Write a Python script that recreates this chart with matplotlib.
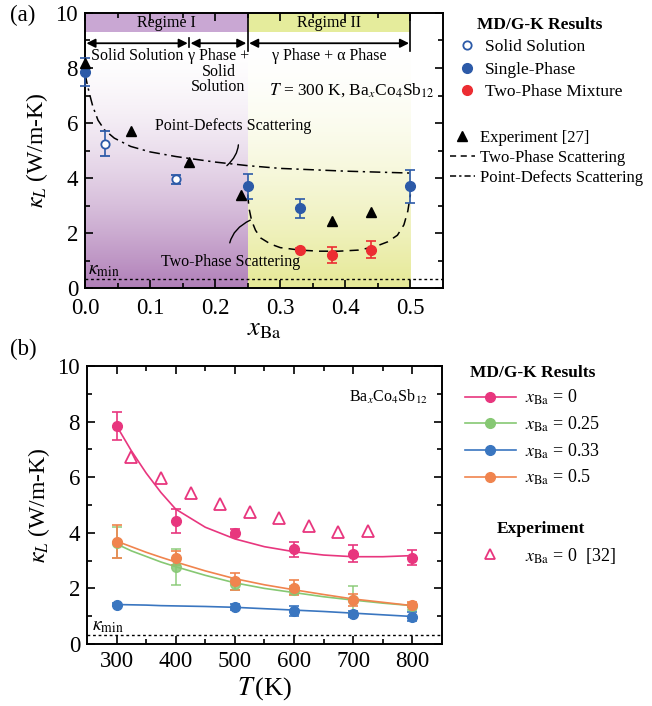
import numpy as np
import matplotlib
matplotlib.use('Agg')
import matplotlib.pyplot as plt
from matplotlib.lines import Line2D
from matplotlib.colors import LinearSegmentedColormap

plt.rcParams['font.family'] = ['Liberation Serif', 'DejaVu Serif']
plt.rcParams['mathtext.fontset'] = 'stix'
plt.rcParams['axes.linewidth'] = 1.4

# ---------------- panel (a) data: kappa_L vs x_Ba at 300 K ----------------
ss_x = [0.03, 0.14]
ss_y = [5.25, 3.95]
ss_err = [0.45, 0.15]

sp_x = [0.0, 0.25, 0.33, 0.5]
sp_y = [7.85, 3.7, 2.9, 3.7]
sp_err = [0.5, 0.45, 0.35, 0.6]

tp_x = [0.33, 0.38, 0.44]
tp_y = [1.4, 1.2, 1.4]
tp_err = [0.05, 0.3, 0.3]

exp_a_x = [0.0, 0.07, 0.16, 0.24, 0.38, 0.44]
exp_a_y = [8.2, 5.7, 4.6, 3.4, 2.45, 2.75]

# model curves
pd_x = [0.0, 0.003, 0.007, 0.012, 0.02, 0.03, 0.045, 0.07, 0.1, 0.14, 0.2, 0.25, 0.3, 0.4, 0.5]
pd_y = [7.8, 7.45, 7.05, 6.6, 6.1, 5.75, 5.45, 5.15, 4.95, 4.78, 4.58, 4.45, 4.35, 4.25, 4.18]

twop_x = [0.25, 0.252, 0.256, 0.262, 0.27, 0.285, 0.3, 0.33, 0.36, 0.39, 0.42, 0.445, 0.465, 0.48, 0.49, 0.496, 0.5]
twop_y = [3.4, 2.9, 2.45, 2.1, 1.82, 1.6, 1.47, 1.38, 1.34, 1.34, 1.38, 1.5, 1.68, 1.92, 2.3, 2.8, 3.4]

kappa_min = 0.33

# ---------------- panel (b) data: kappa_L vs T ----------------
T = [300, 400, 500, 600, 700, 800]
k0 = [7.85, 4.42, 4.0, 3.4, 3.25, 3.1]
k0_err = [0.5, 0.42, 0.12, 0.28, 0.3, 0.27]
k25 = [3.65, 2.78, 2.15, 1.95, 1.6, 1.35]
k25_err = [0.55, 0.65, 0.2, 0.15, 0.5, 0.12]
T33 = [300, 500, 600, 700, 800]
k33 = [1.42, 1.33, 1.2, 1.07, 0.98]
k33_err = [0.05, 0.1, 0.18, 0.1, 0.17]
k50 = [3.68, 3.08, 2.25, 2.03, 1.57, 1.42]
k50_err = [0.6, 0.25, 0.3, 0.27, 0.22, 0.1]

fitT = [300, 325, 350, 375, 400, 450, 500, 550, 600, 650, 700, 750, 800]
fit0 = [7.85, 6.95, 6.15, 5.45, 4.85, 4.2, 3.78, 3.5, 3.32, 3.2, 3.14, 3.14, 3.18]
fit25 = [3.6, 3.35, 3.15, 2.95, 2.78, 2.47, 2.2, 2.0, 1.85, 1.7, 1.58, 1.47, 1.38]
fit33 = [1.42, 1.41, 1.4, 1.38, 1.37, 1.35, 1.32, 1.27, 1.22, 1.17, 1.11, 1.05, 0.99]
fit50 = [3.7, 3.5, 3.3, 3.12, 2.95, 2.63, 2.35, 2.13, 1.95, 1.78, 1.62, 1.5, 1.38]

expT = [325, 375, 425, 475, 525, 575, 625, 675, 725]
exp_b = [6.72, 5.97, 5.43, 5.04, 4.75, 4.53, 4.24, 4.03, 4.07]

c_blue = '#2c5aa8'
c_red = '#ec2d32'
c_pink = '#e8367e'
c_green = '#86c873'
c_lblue = '#3a76c0'
c_orange = '#f0844e'

fig = plt.figure(figsize=(6.52, 7.06), dpi=100)
ax1 = fig.add_axes([0.1304, 0.592, 0.549, 0.3896])
ax2 = fig.add_axes([0.1334, 0.0878, 0.5445, 0.3938])

# ---- background shading (a): white at top, coloured at bottom
grad = np.linspace(0, 1, 256).reshape(-1, 1) ** 1.7
cm_p = LinearSegmentedColormap.from_list('p', ['#ffffff', '#b07fb8'])
cm_y = LinearSegmentedColormap.from_list('y', ['#ffffff', '#e6e996'])
ax1.imshow(grad, cmap=cm_p, aspect='auto', extent=[0, 0.25, 0, 9.0], origin='upper', zorder=0)
ax1.imshow(grad, cmap=cm_y, aspect='auto', extent=[0.25, 0.5, 0, 9.0], origin='upper', zorder=0)
ax1.axvspan(0, 0.25, ymin=0.93, ymax=1.0, color='#c9a7d3', lw=0, zorder=0)
ax1.axvspan(0.25, 0.5, ymin=0.93, ymax=1.0, color='#e5ec9c', lw=0, zorder=0)
ax1.text(0.125, 9.63, 'Regime I', ha='center', va='center', fontsize=11.5)
ax1.text(0.375, 9.63, 'Regime II', ha='center', va='center', fontsize=11.5)

for xa, xb in [(0.0, 0.16), (0.16, 0.25), (0.25, 0.5)]:
    ax1.annotate('', xy=(xa, 8.9), xytext=(xb, 8.9),
                 arrowprops=dict(arrowstyle='<|-|>', color='k', lw=1.3,
                                 mutation_scale=13, shrinkA=1, shrinkB=1))
ax1.plot([0.25, 0.25], [8.6, 10], color='k', lw=1.2)
ax1.plot([0.5, 0.5], [8.6, 10], color='k', lw=1.2)
ax1.plot([0.16, 0.16], [8.75, 9.1], color='k', lw=1.2)
ax1.text(0.08, 8.42, 'Solid Solution', ha='center', va='center', fontsize=11.5)
ax1.text(0.205, 8.72, '\u03b3 Phase +\nSolid\nSolution', ha='center', va='top',
         fontsize=11.5, linespacing=0.95)
ax1.text(0.375, 8.42, '\u03b3 Phase + \u03b1 Phase', ha='center', va='center', fontsize=11.5)
ax1.text(0.41, 7.2, r'$T$ = 300 K, Ba$_x$Co$_4$Sb$_{12}$', ha='center', va='center', fontsize=12.5)

# curves
ax1.plot(pd_x, pd_y, color='k', lw=1.1, dashes=[7, 3, 1.5, 3])
ax1.plot(twop_x, twop_y, color='k', lw=1.1, dashes=[6, 4])
ax1.axhline(kappa_min, color='k', lw=1, ls=(0, (2, 2)))
ax1.text(0.005, 0.62, r'$\kappa_{\rm min}$', fontsize=14, va='center')

# data
ax1.errorbar(ss_x, ss_y, yerr=ss_err, fmt='o', mfc='white', mec=c_blue, ecolor=c_blue,
             ms=6, mew=1.3, capsize=3.5, elinewidth=1.2, capthick=1.2, zorder=5)
ax1.errorbar(sp_x, sp_y, yerr=sp_err, fmt='o', color=c_blue, ms=7, capsize=3.5,
             elinewidth=1.2, capthick=1.2, zorder=5, clip_on=False)
ax1.errorbar(tp_x, tp_y, yerr=tp_err, fmt='o', color=c_red, ms=7, capsize=3.5,
             elinewidth=1.2, capthick=1.2, zorder=5)
ax1.plot(exp_a_x, exp_a_y, '^', color='k', ms=7.5, ls='none', zorder=6, clip_on=False)

ax1.annotate('Point-Defects Scattering', xy=(0.218, 4.45), xytext=(0.228, 5.9),
             ha='center', va='center', fontsize=11.5,
             arrowprops=dict(arrowstyle='-', color='k', lw=1,
                             connectionstyle='arc3,rad=-0.4', shrinkA=6, shrinkB=0))
ax1.annotate('Two-Phase Scattering', xy=(0.254, 2.47), xytext=(0.223, 0.95),
             ha='center', va='center', fontsize=11.5,
             arrowprops=dict(arrowstyle='-', color='k', lw=1,
                             connectionstyle='arc3,rad=-0.4', shrinkA=6, shrinkB=0))

ax1.set_xlim(0, 0.55)
ax1.set_ylim(0, 10)
ax1.set_xticks([0.0, 0.1, 0.2, 0.3, 0.4, 0.5])
ax1.set_xticklabels(['0.0', '0.1', '0.2', '0.3', '0.4', '0.5'])
ax1.set_xticks(np.arange(0.05, 0.55, 0.1), minor=True)
ax1.set_yticks([0, 2, 4, 6, 8, 10])
ax1.set_yticks([1, 3, 5, 7, 9], minor=True)
ax1.set_xlabel(r'$x_{\rm Ba}$', fontsize=19, labelpad=0)
ax1.set_ylabel(r'$\kappa_L$ (W/m-K)', fontsize=17, labelpad=4)

# legends (a)
h1 = [Line2D([], [], marker='o', ls='none', mfc='white', mec=c_blue, mew=1.3, ms=6),
      Line2D([], [], marker='o', ls='none', color=c_blue, ms=7),
      Line2D([], [], marker='o', ls='none', color=c_red, ms=7)]
leg1 = ax1.legend(h1, ['Solid Solution', 'Single-Phase', 'Two-Phase Mixture'],
                  loc='upper left', bbox_to_anchor=(1.02, 1.01), frameon=False,
                  title='MD/G-K Results', title_fontproperties={'weight': 'bold', 'size': 12.5},
                  fontsize=12.5, handlelength=1.2, handletextpad=0.4, labelspacing=0.35,
                  borderaxespad=0)
ax1.add_artist(leg1)
h2 = [Line2D([], [], marker='^', ls='none', color='k', ms=7),
      Line2D([], [], color='k', lw=1.1, dashes=[4, 3]),
      Line2D([], [], color='k', lw=1.1, dashes=[4, 2, 1.5, 2])]
ax1.legend(h2, ['Experiment [27]', 'Two-Phase Scattering', 'Point-Defects Scattering'],
           loc='upper left', bbox_to_anchor=(1.0, 0.6), frameon=False,
           fontsize=12, handlelength=1.5, handletextpad=0.3, labelspacing=0.25,
           borderaxespad=0)

# ---------------- panel (b) ----------------
ax2.plot(fitT, fit0, color=c_pink, lw=1.2)
ax2.plot(fitT, fit25, color=c_green, lw=1.2)
ax2.plot(fitT, fit33, color=c_lblue, lw=1.2)
ax2.plot(fitT, fit50, color=c_orange, lw=1.2)
kw = dict(fmt='o', ms=7, capsize=3.5, elinewidth=1.2, capthick=1.2, zorder=5)
ax2.errorbar(T, k25, yerr=k25_err, color=c_green, alpha=0.85, **kw)
ax2.errorbar(T, k50, yerr=k50_err, color=c_orange, **kw)
ax2.errorbar(T33, k33, yerr=k33_err, color=c_lblue, **kw)
ax2.errorbar(T, k0, yerr=k0_err, color=c_pink, **kw)
ax2.plot(expT, exp_b, '^', mfc='none', mec=c_pink, mew=1.3, ms=8, ls='none')
ax2.axhline(kappa_min, color='k', lw=1, ls=(0, (2, 2)))
ax2.text(258, 0.62, r'$\kappa_{\rm min}$', fontsize=14, va='center')
ax2.text(760, 8.9, r'Ba$_x$Co$_4$Sb$_{12}$', ha='center', va='center', fontsize=11.5)

ax2.set_xlim(250, 850)
ax2.set_ylim(0, 10)
ax2.set_xticks([300, 400, 500, 600, 700, 800])
ax2.set_xticks([350, 450, 550, 650, 750], minor=True)
ax2.set_yticks([0, 2, 4, 6, 8, 10])
ax2.set_yticks([1, 3, 5, 7, 9], minor=True)
ax2.set_xlabel(r'$T\,$(K)', fontsize=19, labelpad=2)
ax2.set_ylabel(r'$\kappa_L$ (W/m-K)', fontsize=17, labelpad=4)

hb = [Line2D([], [], color=c, marker='o', ms=7, lw=1.2) for c in [c_pink, c_green, c_lblue, c_orange]]
legb = ax2.legend(hb, [r'$x_{\rm Ba}$ = 0', r'$x_{\rm Ba}$ = 0.25', r'$x_{\rm Ba}$ = 0.33', r'$x_{\rm Ba}$ = 0.5'],
                  loc='upper left', bbox_to_anchor=(1.045, 1.03), frameon=False,
                  title='MD/G-K Results', title_fontproperties={'weight': 'bold', 'size': 12.5},
                  fontsize=13, handlelength=2.8, handletextpad=0.5, labelspacing=0.4,
                  borderaxespad=0)
ax2.add_artist(legb)
he = [Line2D([], [], marker='^', ls='none', mfc='none', mec=c_pink, mew=1.3, ms=7)]
ax2.legend(he, [r'$x_{\rm Ba}$ = 0  [32]'], loc='upper left', bbox_to_anchor=(1.045, 0.47),
           frameon=False, title='Experiment', title_fontproperties={'weight': 'bold', 'size': 12.5},
           fontsize=13, handlelength=2.8, handletextpad=0.5, borderaxespad=0)

for ax in (ax1, ax2):
    ax.tick_params(which='both', direction='in', top=True, right=True, labelsize=16.5, width=1.2)
    ax.tick_params(which='major', length=6, pad=5)
    ax.tick_params(which='minor', length=3.5)
ax1.tick_params(axis='x', pad=7)

fig.text(0.015, 0.978, '(a)', fontsize=16.5, va='center')
fig.text(0.015, 0.505, '(b)', fontsize=16.5, va='center')

fig.savefig('out.png', dpi=100)
